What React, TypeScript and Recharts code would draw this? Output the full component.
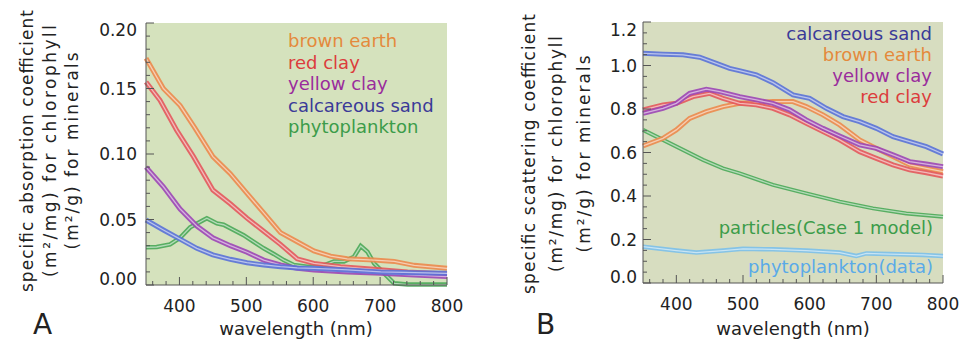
import { CartesianGrid, Line, LineChart, XAxis, YAxis } from "recharts";

// ---- panel A: specific absorption (wavelength nm, value) ----
const absBrownEarth = [
  { w: 350, v: 0.173 }, { w: 376, v: 0.15 }, { w: 401, v: 0.137 }, { w: 423, v: 0.12 },
  { w: 450, v: 0.098 }, { w: 476, v: 0.085 }, { w: 501, v: 0.07 }, { w: 526, v: 0.055 },
  { w: 551, v: 0.04 }, { w: 576, v: 0.033 }, { w: 601, v: 0.026 }, { w: 626, v: 0.022 },
  { w: 651, v: 0.02 }, { w: 691, v: 0.019 }, { w: 721, v: 0.018 }, { w: 751, v: 0.015 },
  { w: 800, v: 0.0127 },
];
const absRedClay = [
  { w: 350, v: 0.155 }, { w: 371, v: 0.141 }, { w: 396, v: 0.118 }, { w: 421, v: 0.098 },
  { w: 450, v: 0.0725 }, { w: 476, v: 0.062 }, { w: 501, v: 0.051 }, { w: 526, v: 0.041 },
  { w: 551, v: 0.031 }, { w: 576, v: 0.02 }, { w: 601, v: 0.0165 }, { w: 641, v: 0.014 },
  { w: 691, v: 0.012 }, { w: 741, v: 0.01 }, { w: 800, v: 0.0084 },
];
const absYellowClay = [
  { w: 350, v: 0.09 }, { w: 376, v: 0.075 }, { w: 401, v: 0.058 }, { w: 426, v: 0.045 },
  { w: 450, v: 0.036 }, { w: 476, v: 0.03 }, { w: 501, v: 0.025 }, { w: 526, v: 0.019 },
  { w: 551, v: 0.0153 }, { w: 576, v: 0.0127 }, { w: 601, v: 0.0115 }, { w: 651, v: 0.01 },
  { w: 701, v: 0.009 }, { w: 751, v: 0.0076 }, { w: 800, v: 0.0064 },
];
const absCalcSand = [
  { w: 350, v: 0.0496 }, { w: 376, v: 0.042 }, { w: 401, v: 0.035 }, { w: 426, v: 0.028 },
  { w: 450, v: 0.023 }, { w: 476, v: 0.0196 }, { w: 501, v: 0.017 }, { w: 526, v: 0.0153 },
  { w: 551, v: 0.014 }, { w: 576, v: 0.013 }, { w: 601, v: 0.0127 }, { w: 651, v: 0.0115 },
  { w: 701, v: 0.01 }, { w: 751, v: 0.0094 }, { w: 800, v: 0.0089 },
];
const absPhyto = [
  { w: 350, v: 0.0288 }, { w: 366, v: 0.029 }, { w: 386, v: 0.031 }, { w: 401, v: 0.036 },
  { w: 416, v: 0.044 }, { w: 436, v: 0.0496 }, { w: 441, v: 0.051 }, { w: 456, v: 0.047 },
  { w: 466, v: 0.046 }, { w: 481, v: 0.042 }, { w: 496, v: 0.038 }, { w: 511, v: 0.033 },
  { w: 526, v: 0.028 }, { w: 541, v: 0.0237 }, { w: 556, v: 0.019 }, { w: 571, v: 0.0153 },
  { w: 591, v: 0.014 }, { w: 611, v: 0.014 }, { w: 631, v: 0.018 }, { w: 646, v: 0.018 },
  { w: 661, v: 0.0216 }, { w: 671, v: 0.0298 }, { w: 681, v: 0.0254 }, { w: 691, v: 0.0165 },
  { w: 706, v: 0.0089 }, { w: 721, v: 0.0013 }, { w: 741, v: 0.0003 }, { w: 800, v: 0.0003 },
];

// ---- panel B: specific scattering ----
const scatCalcSand = [
  { w: 350, v: 1.056 }, { w: 380, v: 1.052 }, { w: 410, v: 1.049 }, { w: 435, v: 1.038 },
  { w: 460, v: 1.01 }, { w: 480, v: 0.987 }, { w: 496, v: 0.975 }, { w: 520, v: 0.957 },
  { w: 545, v: 0.921 }, { w: 575, v: 0.865 }, { w: 600, v: 0.849 }, { w: 625, v: 0.803 },
  { w: 650, v: 0.765 }, { w: 675, v: 0.742 }, { w: 700, v: 0.711 }, { w: 725, v: 0.673 },
  { w: 750, v: 0.65 }, { w: 775, v: 0.627 }, { w: 800, v: 0.593 },
];
const scatYellowClay = [
  { w: 350, v: 0.78 }, { w: 380, v: 0.803 }, { w: 400, v: 0.826 }, { w: 420, v: 0.872 },
  { w: 445, v: 0.891 }, { w: 465, v: 0.88 }, { w: 495, v: 0.857 }, { w: 520, v: 0.842 },
  { w: 545, v: 0.826 }, { w: 570, v: 0.796 }, { w: 595, v: 0.75 }, { w: 620, v: 0.711 },
  { w: 645, v: 0.676 }, { w: 675, v: 0.635 }, { w: 700, v: 0.619 }, { w: 725, v: 0.589 },
  { w: 750, v: 0.558 }, { w: 775, v: 0.547 }, { w: 800, v: 0.535 },
];
const scatRedClay = [
  { w: 350, v: 0.796 }, { w: 380, v: 0.819 }, { w: 400, v: 0.826 }, { w: 425, v: 0.857 },
  { w: 450, v: 0.872 }, { w: 470, v: 0.849 }, { w: 495, v: 0.826 }, { w: 520, v: 0.819 },
  { w: 545, v: 0.803 }, { w: 570, v: 0.773 }, { w: 595, v: 0.734 }, { w: 620, v: 0.696 },
  { w: 645, v: 0.658 }, { w: 675, v: 0.604 }, { w: 700, v: 0.573 }, { w: 725, v: 0.543 },
  { w: 750, v: 0.52 }, { w: 775, v: 0.507 }, { w: 800, v: 0.492 },
];
const scatBrownEarth = [
  { w: 350, v: 0.63 }, { w: 380, v: 0.665 }, { w: 400, v: 0.704 }, { w: 420, v: 0.757 },
  { w: 445, v: 0.788 }, { w: 470, v: 0.811 }, { w: 495, v: 0.826 }, { w: 545, v: 0.834 },
  { w: 575, v: 0.834 }, { w: 595, v: 0.811 }, { w: 620, v: 0.773 }, { w: 645, v: 0.727 },
  { w: 675, v: 0.658 }, { w: 700, v: 0.619 }, { w: 725, v: 0.581 }, { w: 750, v: 0.543 },
  { w: 775, v: 0.527 }, { w: 800, v: 0.512 },
];
const scatParticles = [
  { w: 350, v: 0.704 }, { w: 380, v: 0.658 }, { w: 410, v: 0.612 }, { w: 440, v: 0.566 },
  { w: 470, v: 0.527 }, { w: 495, v: 0.504 }, { w: 545, v: 0.451 }, { w: 595, v: 0.412 },
  { w: 645, v: 0.374 }, { w: 695, v: 0.343 }, { w: 745, v: 0.32 }, { w: 800, v: 0.305 },
];
const scatPhytoData = [
  { w: 350, v: 0.167 }, { w: 400, v: 0.149 }, { w: 430, v: 0.14 }, { w: 470, v: 0.149 },
  { w: 500, v: 0.157 }, { w: 545, v: 0.155 }, { w: 595, v: 0.149 }, { w: 645, v: 0.14 },
  { w: 670, v: 0.124 }, { w: 685, v: 0.136 }, { w: 720, v: 0.133 }, { w: 770, v: 0.129 },
  { w: 800, v: 0.124 },
];

// ticks (minor + major)
const xTicks = [360, 380, 400, 420, 440, 460, 480, 500, 520, 540, 560, 580, 600, 620, 640, 660, 680, 700, 720, 740, 760, 780, 800];
const absTicks = [0, 0.01, 0.02, 0.03, 0.04, 0.05, 0.06, 0.07, 0.08, 0.09, 0.1, 0.11, 0.12, 0.13, 0.14, 0.15, 0.16, 0.17, 0.18, 0.19, 0.2];
const scatTicks = [0, 0.05, 0.1, 0.15, 0.2, 0.25, 0.3, 0.35, 0.4, 0.45, 0.5, 0.55, 0.6, 0.65, 0.7, 0.75, 0.8, 0.85, 0.9, 0.95, 1, 1.05, 1.1, 1.15, 1.2];

const FONT = "'DejaVu Sans', sans-serif";
const INK = "#222";
const AXIS = "#555";

const C = {
  brown: "#ec8a4c",
  red: "#e4585c",
  yellow: "#9c46b6",
  calc: "#5a72d8",
  phyto: "#4aa858",
  phytoData: "#7cc0ea",
};

const XTick = (props: any) => {
  const { x, y, payload } = props;
  const major = payload.value % 100 === 0;
  return (
    <g>
      <line x1={x} x2={x} y1={y} y2={y - (major ? 8 : 4)} stroke={AXIS} strokeWidth={1} />
      {major && (
        <text x={x} y={y + 27} textAnchor="middle" fontSize={17} fontFamily={FONT} fill={INK}>
          {payload.value}
        </text>
      )}
    </g>
  );
};

// inward ticks, labels only on the major steps; end labels pulled inside like the original
const makeYTick = (step: number, digits: number, gap: number, top: number, bottom: number) =>
  (props: any) => {
    const { x, y, payload } = props;
    const major = Math.round(payload.value * 100) % Math.round(step * 100) === 0;
    const ty = Math.min(Math.max(y, top), bottom);
    return (
      <g>
        <line x1={x} x2={x + (major ? 8 : 4)} y1={y} y2={y} stroke={AXIS} strokeWidth={1} />
        {major && (
          <text x={x - gap} y={ty + 6} textAnchor="end" fontSize={17} fontFamily={FONT} fill={INK}>
            {payload.value.toFixed(digits)}
          </text>
        )}
      </g>
    );
  };

const AbsTick = makeYTick(0.05, 2, 9, 30, 279);
const ScatTick = makeYTick(0.2, 1, 6, 30, 277);

// each curve = thick coloured band + thin light core
const doubleLine = (key: string, data: any[], color: string, width = 5) => [
  <Line
    key={key + "-o"}
    data={data}
    dataKey="v"
    type="linear"
    stroke={color}
    strokeWidth={width}
    strokeOpacity={0.9}
    dot={false}
    activeDot={false}
    isAnimationActive={false}
  />,
  <Line
    key={key + "-i"}
    data={data}
    dataKey="v"
    type="linear"
    stroke="#ffffff"
    strokeOpacity={0.55}
    strokeWidth={1.3}
    dot={false}
    activeDot={false}
    isAnimationActive={false}
  />,
];

function TitleLines({ x, cy, lines }: { x: number[]; cy: number; lines: { t: string; len: number }[] }) {
  return (
    <>
      {lines.map((l, i) => (
        <text
          key={i}
          x={x[i]}
          y={cy}
          transform={`rotate(-90 ${x[i]} ${cy})`}
          textAnchor="middle"
          fontSize={17}
          fontFamily={FONT}
          fill={INK}
          textLength={l.len}
          lengthAdjust="spacing"
        >
          {l.t}
        </text>
      ))}
    </>
  );
}

export default function App() {
  return (
    <div style={{ position: "absolute", left: 0, top: 0, width: 960, height: 342, background: "#fff", overflow: "hidden" }}>
      <div style={{ position: "absolute", left: 0, top: 0 }}>
        <LineChart width={470} height={342} margin={{ top: 23, right: 23, bottom: 7, left: 96 }}>
          <CartesianGrid horizontal={false} vertical={false} fill="#d5e2bd" />
          <XAxis
            type="number"
            dataKey="w"
            domain={[350, 800]}
            ticks={xTicks}
            interval={0}
            height={50}
            tickSize={0}
            tickMargin={0}
            tickLine={false}
            axisLine={{ stroke: AXIS }}
            tick={<XTick />}
          />
          <YAxis
            type="number"
            domain={[0, 0.2]}
            ticks={absTicks}
            interval={0}
            width={50}
            tickSize={0}
            tickMargin={0}
            tickLine={false}
            axisLine={{ stroke: AXIS }}
            tick={<AbsTick />}
          />
          {doubleLine("phyto", absPhyto, C.phyto, 4.5)}
          {doubleLine("brown", absBrownEarth, C.brown)}
          {doubleLine("red", absRedClay, C.red)}
          {doubleLine("yellow", absYellowClay, C.yellow)}
          {doubleLine("calc", absCalcSand, C.calc)}
        </LineChart>
      </div>
      <div style={{ position: "absolute", left: 480, top: 0 }}>
        <LineChart width={480} height={342} margin={{ top: 22, right: 17, bottom: 9, left: 113 }}>
          <CartesianGrid horizontal={false} vertical={false} fill="#d7ddc0" />
          <XAxis
            type="number"
            dataKey="w"
            domain={[350, 800]}
            ticks={xTicks}
            interval={0}
            height={50}
            tickSize={0}
            tickMargin={0}
            tickLine={false}
            axisLine={{ stroke: AXIS }}
            tick={<XTick />}
          />
          <YAxis
            type="number"
            domain={[0, 1.2]}
            ticks={scatTicks}
            interval={0}
            width={50}
            tickSize={0}
            tickMargin={0}
            tickLine={false}
            axisLine={{ stroke: AXIS }}
            tick={<ScatTick />}
          />
          {doubleLine("part", scatParticles, C.phyto, 4)}
          {doubleLine("pdata", scatPhytoData, C.phytoData, 4.5)}
          {doubleLine("brown", scatBrownEarth, C.brown)}
          {doubleLine("red", scatRedClay, C.red)}
          {doubleLine("yellow", scatYellowClay, C.yellow)}
          {doubleLine("calc", scatCalcSand, C.calc)}
        </LineChart>
      </div>
      <svg width={960} height={342} style={{ position: "absolute", left: 0, top: 0, pointerEvents: "none" }}>
        <TitleLines
          x={[33, 56, 78]}
          cy={151}
          lines={[
            { t: "specific absorption coefficient", len: 282 },
            { t: "(m²/mg) for chlorophyll", len: 252 },
            { t: "(m²/g) for minerals", len: 197 },
          ]}
        />
        <TitleLines
          x={[535, 562, 590]}
          cy={154}
          lines={[
            { t: "specific scattering coefficient", len: 280 },
            { t: "(m²/mg) for chlorophyll", len: 236 },
            { t: "(m²/g) for minerals", len: 197 },
          ]}
        />
        <g fontFamily={FONT} fontSize={18}>
          <text x={288} y={47} fill="#e48a3c">brown earth</text>
          <text x={288} y={68.5} fill="#dc3c3c">red clay</text>
          <text x={288} y={90} fill="#9a2c9c">yellow clay</text>
          <text x={288} y={111.5} fill="#3a3a98">calcareous sand</text>
          <text x={288} y={133} fill="#3c9c4a">phytoplankton</text>

          <text x={932} y={39.5} textAnchor="end" fill="#3a3a98">calcareous sand</text>
          <text x={932} y={60.5} textAnchor="end" fill="#e48a3c">brown earth</text>
          <text x={932} y={81.5} textAnchor="end" fill="#9a2c9c">yellow clay</text>
          <text x={932} y={102.5} textAnchor="end" fill="#dc3c3c">red clay</text>
          <text x={933} y={234} textAnchor="end" fill="#3c9c4a">particles(Case 1 model)</text>
          <text x={933} y={273} textAnchor="end" fill="#5aaae8">phytoplankton(data)</text>

          <text x={296} y={335} textAnchor="middle" fill={INK}>wavelength (nm)</text>
          <text x={793} y={335} textAnchor="middle" fill={INK}>wavelength (nm)</text>
        </g>
        <text x={33} y={334} fontFamily={FONT} fontSize={28} fill={INK}>A</text>
        <text x={536} y={334} fontFamily={FONT} fontSize={28} fill={INK}>B</text>
      </svg>
    </div>
  );
}
